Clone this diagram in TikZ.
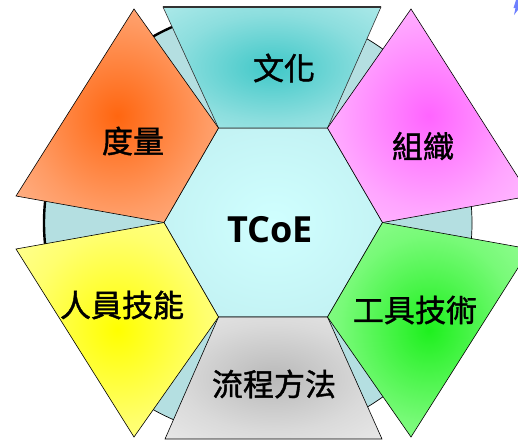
\documentclass[tikz,border=0pt]{standalone}
\usepackage{fontspec}
\newfontfamily\cjk[FakeBold=1.3]{Noto Sans CJK TC}
\newfontfamily\latf{Open Sans}
\definecolor{bgteal}{RGB}{180,223,225}
\definecolor{hexIn}{RGB}{208,255,255}
\definecolor{hexOut}{RGB}{184,232,234}
\definecolor{tealIn}{RGB}{64,200,200}
\definecolor{tealMid}{RGB}{140,222,222}
\definecolor{tealOut}{RGB}{205,244,244}
\definecolor{orgIn}{RGB}{255,102,16}
\definecolor{orgMid}{RGB}{255,155,100}
\definecolor{orgOut}{RGB}{255,210,188}
\definecolor{magIn}{RGB}{255,100,255}
\definecolor{magMid}{RGB}{255,165,255}
\definecolor{magOut}{RGB}{255,222,255}
\definecolor{grnIn}{RGB}{30,240,30}
\definecolor{grnMid}{RGB}{120,250,120}
\definecolor{grnOut}{RGB}{190,255,190}
\definecolor{ylwIn}{RGB}{255,255,0}
\definecolor{ylwMid}{RGB}{255,255,110}
\definecolor{ylwOut}{RGB}{255,255,200}
\definecolor{gryIn}{RGB}{185,185,185}
\definecolor{gryMid}{RGB}{218,218,218}
\definecolor{gryOut}{RGB}{246,246,246}
\definecolor{edge}{RGB}{50,50,50}
\definecolor{bluemark}{RGB}{110,128,255}
\pgfdeclareradialshading{shHex}{\pgfpointorigin}{color(0bp)=(hexIn); color(50bp)=(hexOut)}
\pgfdeclareradialshading{shTeal}{\pgfpointorigin}{color(0bp)=(tealIn); color(22bp)=(tealMid); color(50bp)=(tealOut)}
\pgfdeclareradialshading{shOrg}{\pgfpointorigin}{color(0bp)=(orgIn); color(22bp)=(orgMid); color(50bp)=(orgOut)}
\pgfdeclareradialshading{shMag}{\pgfpointorigin}{color(0bp)=(magIn); color(22bp)=(magMid); color(50bp)=(magOut)}
\pgfdeclareradialshading{shGrn}{\pgfpointorigin}{color(0bp)=(grnIn); color(22bp)=(grnMid); color(50bp)=(grnOut)}
\pgfdeclareradialshading{shYlw}{\pgfpointorigin}{color(0bp)=(ylwIn); color(22bp)=(ylwMid); color(50bp)=(ylwOut)}
\pgfdeclareradialshading{shGry}{\pgfpointorigin}{color(0bp)=(gryIn); color(22bp)=(gryMid); color(50bp)=(gryOut)}
\begin{document}
\begin{tikzpicture}[x=1pt,y=-1pt,
  poly/.style={draw=black, line width=0.6pt, line join=miter},
  lbl/.style={font=\cjk\fontsize{31}{31}\selectfont, text=black, inner sep=0pt}]
\useasboundingbox (0,0) rectangle (518,440);
\clip (0,0) rectangle (518,440);
% hexagon vertices
\coordinate (TL) at (218.5,128);
\coordinate (TR) at (327.5,128);
\coordinate (R)  at (382.5,222.5);
\coordinate (BR) at (327.5,317);
\coordinate (BL) at (218.5,317);
\coordinate (L)  at (164,222.5);
% background disc
\coordinate (bgC) at (258,223);
\filldraw[fill=bgteal, draw=black, line width=0.7pt] (bgC) circle[radius=214];
\draw[line width=2.4pt] (bgC) ++(150:214) arc[start angle=150, end angle=262, radius=214];
% central hexagon
\shadedraw[shading=shHex, draw=edge, line width=0.6pt] (TL) -- (TR) -- (R) -- (BR) -- (BL) -- (L) -- cycle;
% top trapezoid
\coordinate (t1) at (163,7);
\coordinate (t2) at (381,7);
\shadedraw[shading=shTeal, draw=edge, line width=0.6pt] (t1) -- (t2) -- (TR) -- (TL) -- cycle;
\draw[draw=edge, line width=1.6pt] (t1) -- (t2);
% bottom trapezoid
\coordinate (b1) at (165,439);
\coordinate (b2) at (382,439);
\shadedraw[shading=shGry, poly] (BL) -- (BR) -- (b2) -- (b1) -- cycle;
% orange
\coordinate (o1) at (134,9);
\coordinate (o2) at (16,196);
\shadedraw[shading=shOrg, poly] (TL) -- (o1) -- (o2) -- (L) -- cycle;
% magenta
\coordinate (m1) at (411,9);
\coordinate (m2) at (530,196);
\shadedraw[shading=shMag, poly] (TR) -- (m1) -- (m2) -- (R) -- cycle;
% yellow
\coordinate (y1) at (16,249);
\coordinate (y2) at (134,437);
\shadedraw[shading=shYlw, poly] (L) -- (y1) -- (y2) -- (BL) -- cycle;
% green
\coordinate (g1) at (530,249);
\coordinate (g2) at (411,437);
\shadedraw[shading=shGrn, poly] (R) -- (g1) -- (g2) -- (BR) -- cycle;
% small blue mark
\fill[bluemark] (516,0) -- (521,0) -- (519,6) -- (521,6) -- (514,15) -- (515.5,8) -- (513.5,8) -- cycle;
% labels
\node[lbl] (wenhua) at (284,68) {文化};
\node[lbl] (duliang) at (133,141) {度量};
\node[lbl] (zuzhi) at (423,146) {組織};
\node[lbl] (renyuan) at (122,305) {人員技能};
\node[lbl] (gongju) at (415,310) {工具技術};
\node[lbl] (liucheng) at (274,384) {流程方法};
\node[font=\latf\bfseries\fontsize{36}{36}\selectfont, inner sep=0pt] (tcoe) at (270,230) {TCoE};
\end{tikzpicture}
\end{document}
